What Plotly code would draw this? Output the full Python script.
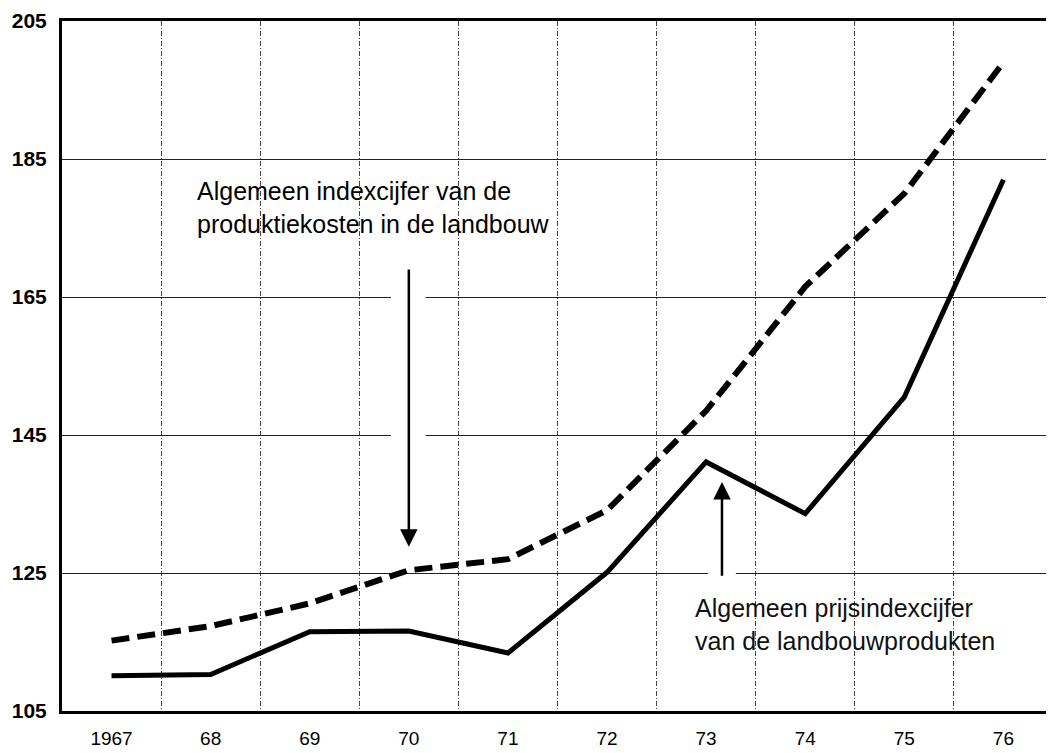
"""Landbouw: prijsindex vs. produktiekosten, 1967-1976."""

import plotly.graph_objects as go

years = ["1967", "68", "69", "70", "71", "72", "73", "74", "75", "76"]
prijs_index = [110.1, 110.3, 116.5, 116.6, 113.4, 125.1, 141.1, 133.6, 150.5, 182.0]
kosten_index = [115.2, 117.3, 120.6, 125.4, 127.0, 134.1, 148.5, 166.5, 180.0, 199.0]
y_ticks = [105, 125, 145, 165, 185, 205]

TICK_FONT = "Liberation Sans, Arial, sans-serif"
LABEL_FONT = "Liberation Sans, Arial, sans-serif"

xs = list(range(len(years)))

fig = go.Figure()
fig.add_trace(
    go.Scatter(
        x=xs,
        y=kosten_index,
        mode="lines",
        line=dict(color="black", width=6, dash="18px,8px"),
        name="produktiekosten",
    )
)
fig.add_trace(
    go.Scatter(
        x=xs,
        y=prijs_index,
        mode="lines",
        line=dict(color="black", width=5),
        name="prijsindex",
    )
)

# white strips so the gridlines break around the arrows, like the original print
fig.add_shape(type="rect", x0=2.82, x1=3.17, y0=128, y1=170, layer="between",
              fillcolor="white", line_width=0)
fig.add_shape(type="rect", x0=6.02, x1=6.30, y0=123.5, y1=137, layer="between",
              fillcolor="white", line_width=0)

fig.add_annotation(
    x=0.84, y=177.9, xanchor="left", yanchor="middle", align="left",
    text="Algemeen indexcijfer van de<br>produktiekosten in de landbouw",
    showarrow=False, font=dict(family=LABEL_FONT, size=25, color="black"),
)
fig.add_annotation(
    x=5.87, y=117.6, xanchor="left", yanchor="middle", align="left",
    text="Algemeen prijsindexcijfer<br>van de landbouwprodukten",
    showarrow=False, font=dict(family=LABEL_FONT, size=25, color="#111"),
)
# arrows
fig.add_annotation(
    x=3.0, y=128.8, ax=3.0, ay=169.2, axref="x", ayref="y", text="",
    showarrow=True, arrowhead=2, arrowsize=1.4, arrowwidth=2.5, arrowcolor="black",
)
fig.add_annotation(
    x=6.16, y=138.2, ax=6.16, ay=124.4, axref="x", ayref="y", text="",
    showarrow=True, arrowhead=2, arrowsize=1.4, arrowwidth=2.5, arrowcolor="black",
)

fig.update_xaxes(
    range=[-0.5, 9.45],
    tickvals=xs,
    ticktext=years,
    ticks="",
    showgrid=False,
    minor=dict(tick0=0.5, dtick=1, showgrid=True, gridcolor="#444",
               gridwidth=1, griddash="5px,2px,1px,2px", ticks=""),
    showline=True, linecolor="black", linewidth=3, mirror=True,
    tickfont=dict(family=TICK_FONT, size=19, color="black"),
    ticklabelstandoff=8,
    zeroline=False,
    automargin=False,
)
fig.update_yaxes(
    range=[105, 205],
    tickvals=y_ticks,
    ticks="",
    showgrid=True, gridcolor="#222", gridwidth=1,
    showline=True, linecolor="black", linewidth=3, mirror=True,
    tickfont=dict(family=TICK_FONT, size=21, color="black", weight="bold"),
    ticklabelstandoff=8,
    zeroline=False,
    automargin=False,
)

# the page body keeps its default 8px margin, so the figure is 8px smaller
# each way and the margins are shifted to put the frame where the scan has it
fig.update_layout(
    width=1046, height=745,
    showlegend=False,
    plot_bgcolor="white", paper_bgcolor="white",
    margin=dict(l=54, r=6, t=13, b=42),
)
fig.write_html("out.html")
